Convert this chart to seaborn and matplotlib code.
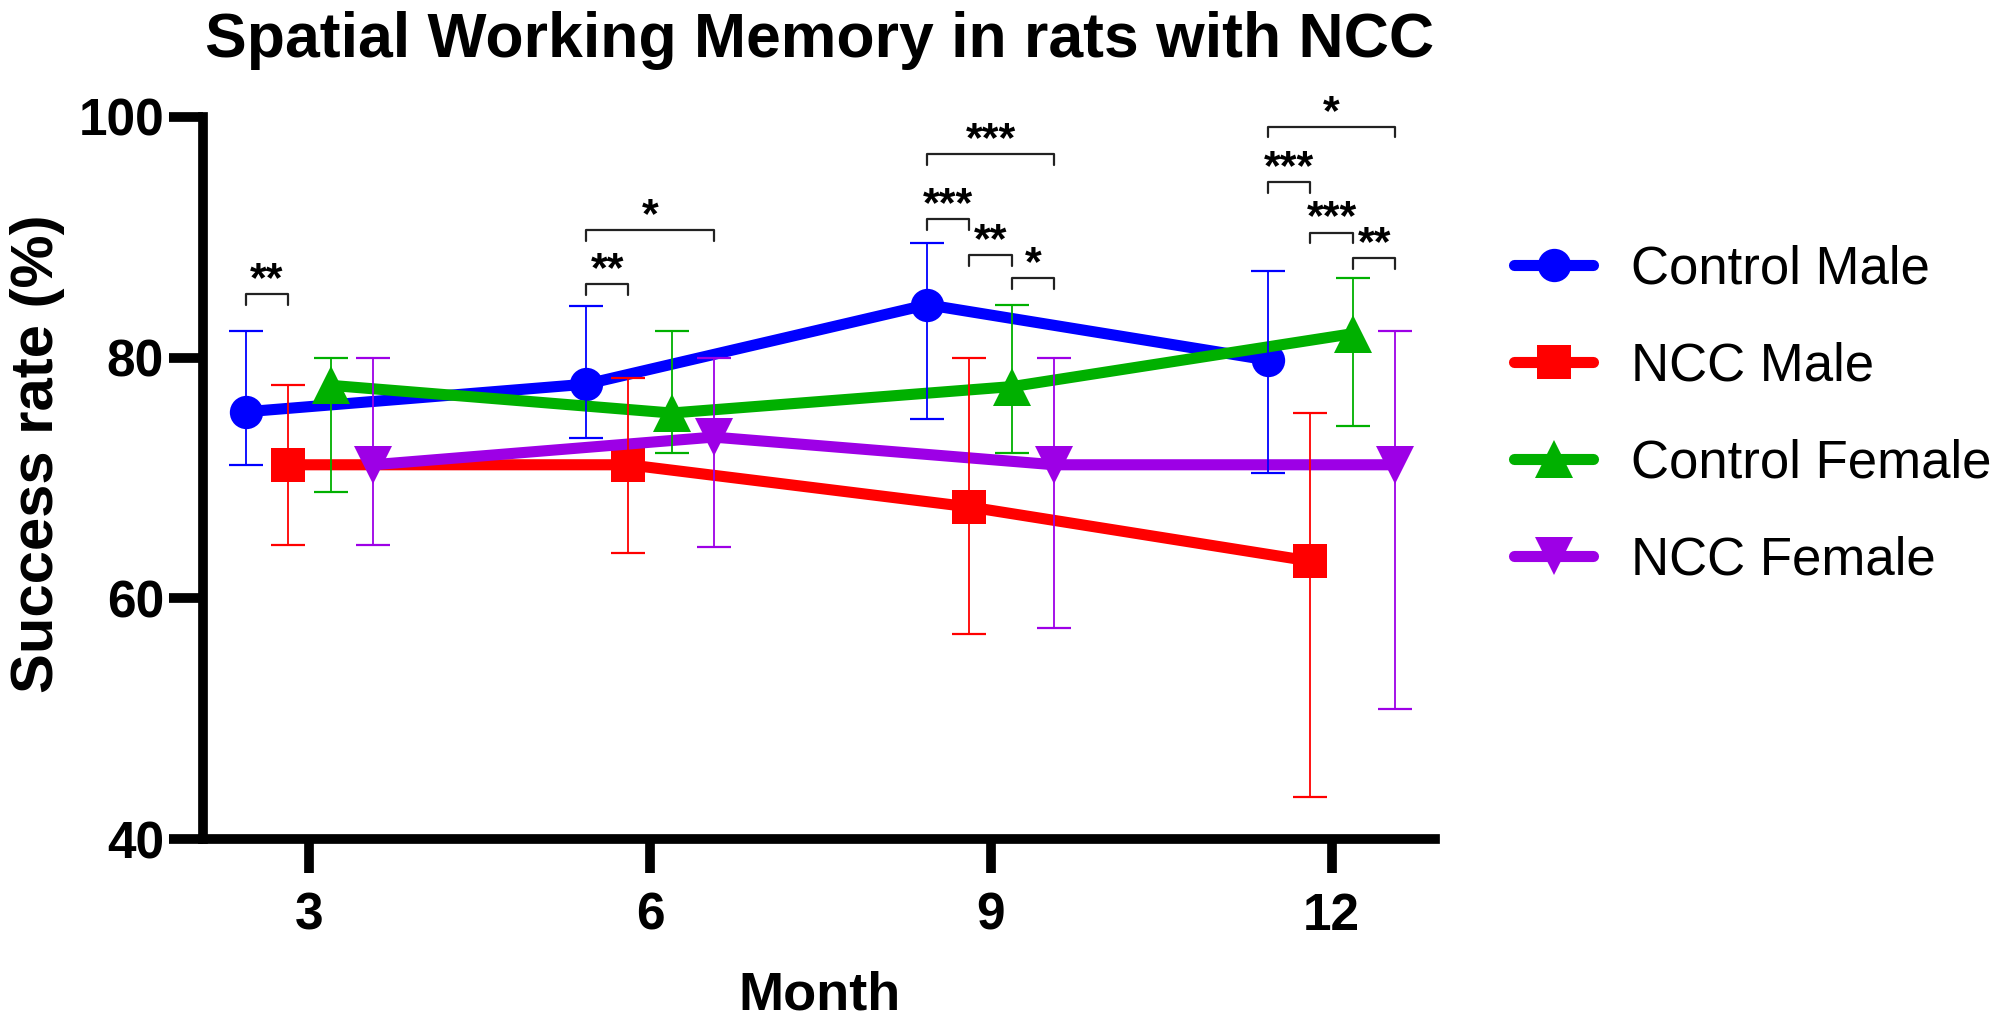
import matplotlib
matplotlib.use("Agg")
import matplotlib.pyplot as plt
import numpy as np
import pandas as pd
import seaborn as sns

# 数据：月份与各组成功率（均值及误差条上下端）
months = [3, 6, 9, 12]
groups = ["Control Male", "NCC Male", "Control Female", "NCC Female"]

control_male = [75.5, 77.8, 84.4, 79.8]
control_male_low = [71.1, 73.3, 74.9, 70.4]
control_male_high = [82.2, 84.3, 89.5, 87.2]

ncc_male = [71.1, 71.1, 67.6, 63.1]
ncc_male_low = [64.4, 63.8, 57.0, 43.5]
ncc_male_high = [77.7, 78.3, 80.0, 75.4]

control_female = [77.7, 75.4, 77.6, 82.0]
control_female_low = [68.8, 72.1, 72.1, 74.3]
control_female_high = [80.0, 82.2, 84.4, 86.6]

ncc_female = [71.1, 73.4, 71.1, 71.1]
ncc_female_low = [64.4, 64.3, 57.5, 50.8]
ncc_female_high = [80.0, 80.0, 80.0, 82.2]

# 显著性标记: (月份, 组1, 组2, 横线高度, 文本)
brackets = [
    (3, "Control Male", "NCC Male", 85.3, "**"),
    (6, "Control Male", "NCC Male", 86.1, "**"),
    (6, "Control Male", "NCC Female", 90.6, "*"),
    (9, "Control Male", "NCC Female", 96.9, "***"),
    (9, "Control Male", "NCC Male", 91.5, "***"),
    (9, "NCC Male", "Control Female", 88.5, "**"),
    (9, "Control Female", "NCC Female", 86.6, "*"),
    (12, "Control Male", "NCC Female", 99.2, "*"),
    (12, "Control Male", "NCC Male", 94.6, "***"),
    (12, "NCC Male", "Control Female", 90.4, "***"),
    (12, "Control Female", "NCC Female", 88.3, "**"),
]

# 样式
offsets = {"Control Male": -0.56, "NCC Male": -0.19, "Control Female": 0.19, "NCC Female": 0.56}
colors = {"Control Male": "#0000ff", "NCC Male": "#ff0000", "Control Female": "#00b000", "NCC Female": "#9d00e6"}
markers = {"Control Male": "o", "NCC Male": "s", "Control Female": "^", "NCC Female": "v"}
msizes = {"Control Male": 24, "NCC Male": 24, "Control Female": 28, "NCC Female": 28}

means = [control_male, ncc_male, control_female, ncc_female]
lows = [control_male_low, ncc_male_low, control_female_low, ncc_female_low]
highs = [control_male_high, ncc_male_high, control_female_high, ncc_female_high]

rows = []
for g, vals, lo, hi in zip(groups, means, lows, highs):
    for m, v, l, h in zip(months, vals, lo, hi):
        rows.append({"group": g, "month": m, "pos": m + offsets[g], "rate": v, "low": l, "high": h})
df = pd.DataFrame(rows)

sns.set_style("ticks", {"axes.edgecolor": "black", "text.color": "black",
                        "xtick.color": "black", "ytick.color": "black",
                        "axes.labelcolor": "black"})
plt.rcParams["font.family"] = ["Liberation Sans", "DejaVu Sans"]
plt.rcParams["font.weight"] = "bold"

fig = plt.figure(figsize=(19.95, 10.19), dpi=100)
ax = fig.add_axes([0.10175, 0.1766, 0.7193 - 0.10175, 0.8852 - 0.1766])

for g in groups:
    sub = df[df["group"] == g]
    ax.errorbar(sub["pos"], sub["rate"],
                yerr=[sub["rate"] - sub["low"], sub["high"] - sub["rate"]],
                fmt="none", ecolor=colors[g], elinewidth=1.3, capsize=12.5, capthick=1.6, zorder=3)
    sns.lineplot(data=sub, x="pos", y="rate", color=colors[g], marker=markers[g],
                 markersize=msizes[g], markeredgewidth=0, linewidth=8, label=g,
                 errorbar=None, ax=ax, zorder=2)

# 显著性括号
for m, g1, g2, y, txt in brackets:
    x1 = m + offsets[g1]
    x2 = m + offsets[g2]
    ax.plot([x1, x1, x2, x2], [y - 0.9, y, y, y - 0.9], color="#222222", lw=1.6,
            clip_on=False, zorder=4)
    ax.text((x1 + x2) / 2, y + 0.25, txt, ha="center", va="baseline", fontsize=31,
            fontweight="bold", clip_on=False)

ax.set_xlim(2.065, 12.91)
ax.set_ylim(40, 100)
ax.set_xticks(months)
ax.set_yticks([40, 60, 80, 100])
ax.set_xlabel("")
ax.set_ylabel("")
sns.despine(ax=ax)
for side in ["left", "bottom"]:
    ax.spines[side].set_linewidth(7)
    ax.spines[side].set_color("black")
    ax.spines[side].set_capstyle("projecting")
ax.tick_params(axis="both", direction="out", width=7, length=24.5, labelsize=37,
               color="black", labelcolor="black", bottom=True, left=True)
ax.tick_params(axis="y", pad=3.5)
ax.tick_params(axis="x", pad=13.5)

handles, labels = ax.get_legend_handles_labels()
ax.legend(handles, labels, loc="upper left", bbox_to_anchor=(1514 / 1995, 0.760),
          bbox_transform=fig.transFigure, frameon=False, borderpad=0, borderaxespad=0,
          handlelength=1.5, handletextpad=0.72, labelspacing=0.89,
          prop={"family": "Liberation Sans", "weight": "normal", "size": 38})

fig.text(820 / 1995, 1 - 57 / 1019, "Spatial Working Memory in rats with NCC",
         ha="center", va="baseline", fontsize=45, fontweight="bold")
fig.text(38 / 1995, 1 - 454 / 1019, "Success rate (%)", rotation=90,
         ha="center", va="center", fontsize=43, fontweight="bold")
fig.text(819 / 1995, 1 - 1010 / 1019, "Month", ha="center", va="baseline",
         fontsize=39, fontweight="bold")

fig.savefig("out.png", dpi=100)
